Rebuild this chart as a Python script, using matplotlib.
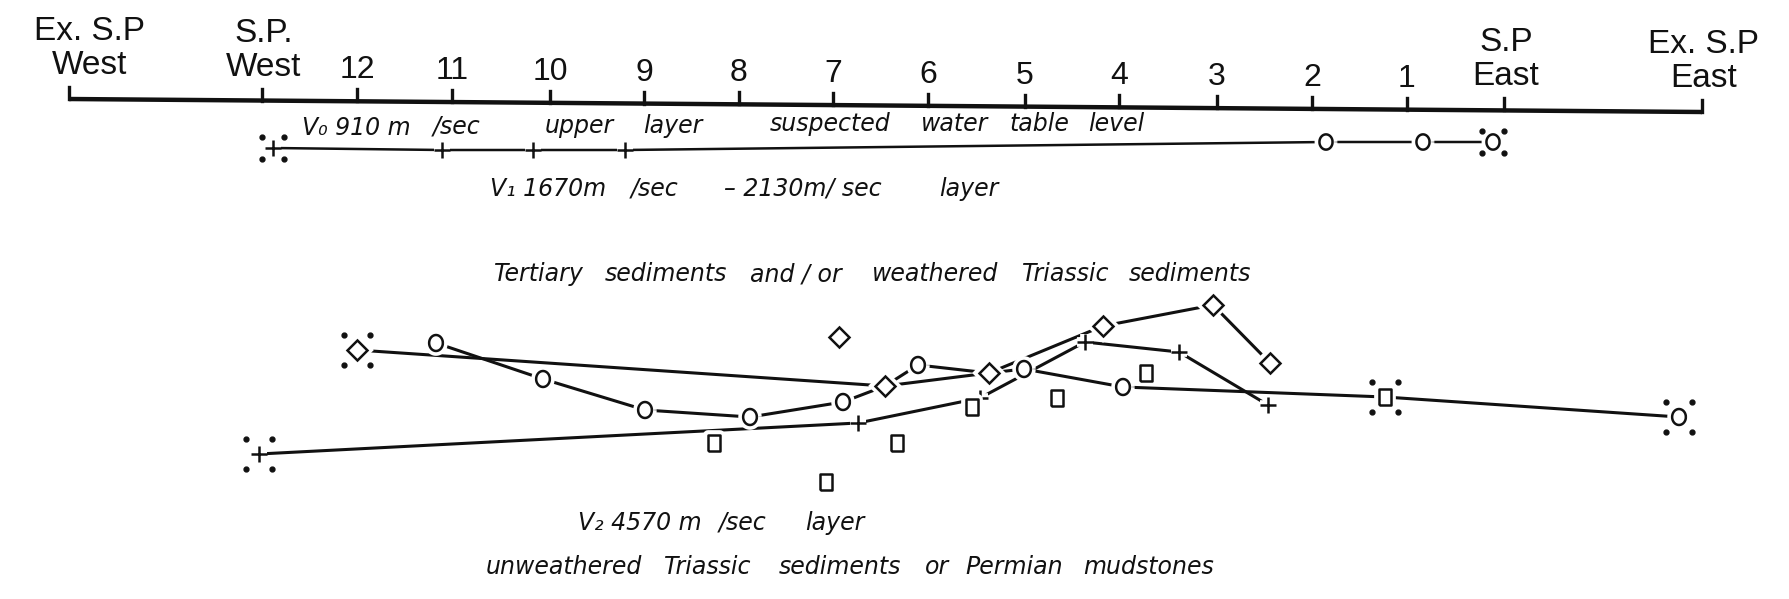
import numpy as np
import matplotlib
matplotlib.use("Agg")
import matplotlib.pyplot as plt
import matplotlib.patheffects as pe

# Stations along the profile (x measured on the 1790 x 599 sheet)
station_labels = ["Ex. S.P\nWest", "S.P.\nWest", "12", "11", "10", "9", "8", "7",
                  "6", "5", "4", "3", "2", "1", "S.P\nEast", "Ex. S.P\nEast"]
station_x = [69, 262, 357, 452, 550, 644, 739, 833, 928, 1025, 1119, 1217,
             1312, 1407, 1504, 1702]

# V0 / V1 interface (upper refractor)
v0_plus_x = [273, 442, 533, 625]
v0_plus_y = [148, 150, 150, 150]
v0_circle_x = [1326, 1423, 1493]
v0_circle_y = [142, 142, 142]

# V1 / V2 interface (lower refractor), one series per shot
diamond_x = [357, 885, 989, 1103, 1213, 1270]
diamond_y = [350, 386, 373, 326, 305, 363]
circle_x = [436, 543, 645, 750, 843, 885, 918, 989, 1024, 1123, 1385, 1679]
circle_y = [343, 379, 410, 417, 402, 386, 365, 373, 369, 387, 397, 417]
circle_marked = [0, 1, 2, 3, 4, 6, 8, 9, 11]
plus_x = [259, 858, 980, 1085, 1179, 1268]
plus_y = [454, 423, 398, 342, 352, 405]
lone_diamond_x = [839]
lone_diamond_y = [337]
square_x = [714, 897, 826, 972, 1057, 1146, 1385]
square_y = [443, 443, 482, 407, 398, 373, 397]

# shot points (marked with four dots)
upper_shots = [(273, 148), (1493, 142)]
lower_shots = [(259, 454), (357, 350), (1385, 397), (1679, 417)]

# hand lettering: (text, left x, baseline y)
notes = [
    ("V\u2080 910 m", 302, 135), ("/sec", 433, 134), ("upper", 545, 133),
    ("layer", 643, 133), ("suspected", 770, 131), ("water", 921, 131),
    ("table", 1009, 131), ("level", 1088, 131),
    ("V\u2081 1670m", 490, 196), ("/sec", 631, 196), ("\u2013 2130m/ sec", 724, 196),
    ("layer", 939, 196),
    ("Tertiary", 494, 281), ("sediments", 605, 281), ("and / or", 750, 281),
    ("weathered", 872, 281), ("Triassic", 1022, 281), ("sediments", 1129, 281),
    ("V\u2082 4570 m", 578, 530), ("/sec", 719, 530), ("layer", 805, 530),
    ("unweathered", 486, 574), ("Triassic", 664, 574), ("sediments", 779, 574),
    ("or", 925, 574), ("Permian", 965, 574), ("mudstones", 1083, 574),
]

ink = "#111111"
upright = ["Liberation Sans", "DejaVu Sans"]

fig = plt.figure(figsize=(17.9, 5.99), dpi=100)
ax = fig.add_axes([0, 0, 1, 1])
ax.set_xlim(0, 1790)
ax.set_ylim(599, 0)
ax.axis("off")


def base_y(x):
    # the drawn profile line drops a little towards the east
    return np.interp(x, [station_x[0], station_x[-1]], [99, 112])


# profile line with ticks and labels
ax.plot([station_x[0], station_x[-1]], [base_y(station_x[0]), base_y(station_x[-1])],
        color=ink, lw=3.2, solid_capstyle="butt")
for lab, x in zip(station_labels, station_x):
    y = base_y(x)
    ax.plot([x, x], [y, y - 12], color=ink, lw=2.4)
    lines = lab.split("\n")
    if len(lines) == 1:
        ax.text(x, y - 23, lab, ha="center", va="baseline", fontsize=23,
                family=upright, color=ink)
    else:
        dx = 21 if x == station_x[0] else 2
        ax.text(x + dx, y - 25, lines[1], ha="center", va="baseline", fontsize=24,
                family=upright, color=ink)
        ax.text(x + dx, y - 59, lines[0], ha="center", va="baseline", fontsize=24,
                family=upright, color=ink)

halo = [pe.withStroke(linewidth=7, foreground="white")]
t = np.linspace(0, 2 * np.pi, 41)
ellipse = list(zip(0.43 * np.cos(t), 0.5 * np.sin(t)))
rect = [(-0.36, -0.5), (0.36, -0.5), (0.36, 0.5), (-0.36, 0.5), (-0.36, -0.5)]


def marks(xs, ys, marker, ms):
    ax.plot(xs, ys, ls="none", marker=marker, ms=ms, mfc="white", mec=ink,
            mew=1.8, path_effects=halo, zorder=3)


# upper refractor
ax.plot(v0_plus_x + v0_circle_x, v0_plus_y + v0_circle_y, color=ink, lw=1.8, zorder=2)
marks(v0_plus_x, v0_plus_y, "+", 11)
marks(v0_circle_x, v0_circle_y, ellipse, 11)

# lower refractor
ax.plot(diamond_x, diamond_y, color=ink, lw=2.2, zorder=2)
ax.plot(circle_x, circle_y, color=ink, lw=2.2, zorder=2)
ax.plot(plus_x, plus_y, color=ink, lw=2.2, zorder=2)
marks(diamond_x + lone_diamond_x, diamond_y + lone_diamond_y, "D", 10)
marks([circle_x[i] for i in circle_marked], [circle_y[i] for i in circle_marked],
      ellipse, 11.5)
marks(plus_x, plus_y, "+", 12)
marks(square_x, square_y, rect, 12)

for shots, dx, dy in [(upper_shots, 11, 11), (lower_shots, 13, 15)]:
    for sx, sy in shots:
        ax.plot([sx - dx, sx + dx, sx - dx, sx + dx], [sy - dy, sy - dy, sy + dy, sy + dy],
                ls="none", marker="o", ms=3.5, color=ink, zorder=4)

for txt, x, y in notes:
    ax.text(x, y, txt, ha="left", va="baseline", fontsize=17, style="oblique",
            family="DejaVu Sans", color=ink)

fig.savefig("out.png", dpi=100, facecolor="white")
